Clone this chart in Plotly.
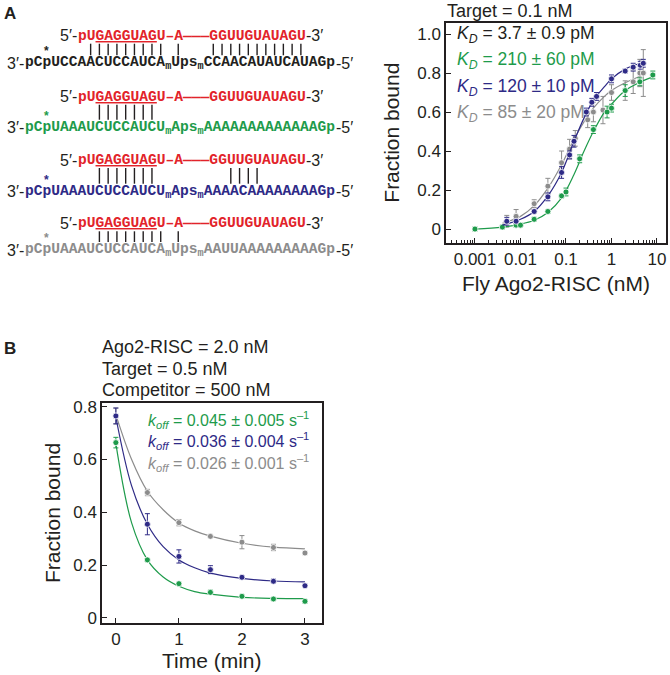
import plotly.graph_objects as go

W, H = 670, 675
INK = "#231f20"
RED = "#e2232a"
GREEN = "#1e9b4b"
BLUE = "#2e2a86"
GRAY = "#8c8c8c"
SANS = "Liberation Sans, Arial, sans-serif"
MONO = "Liberation Mono, Courier New, monospace"

# ---- panel A: binding curves, fraction bound vs Fly Ago2-RISC (nM)
green_conc = [0.001, 0.004, 0.008, 0.01, 0.02, 0.04, 0.08, 0.1, 0.2, 0.4, 0.8, 1.0, 2.0, 4.2, 8.1]
green_bound = [0.00, 0.01, 0.02, 0.02, 0.05, 0.09, 0.17, 0.19, 0.36, 0.51, 0.60, 0.62, 0.71, 0.755, 0.79]
green_err = [0.01, 0.01, 0.01, 0.01, 0.01, 0.01, 0.01, 0.02, 0.02, 0.02, 0.03, 0.02, 0.03, 0.02, 0.02]

blue_conc = [0.005, 0.008, 0.02, 0.04, 0.08, 0.12, 0.15, 0.28, 0.37, 0.47, 1.0, 2.0, 3.0, 4.3, 5.0]
blue_bound = [0.04, 0.04, 0.09, 0.165, 0.29, 0.38, 0.45, 0.60, 0.65, 0.68, 0.77, 0.81, 0.83, 0.84, 0.85]
blue_err = [0.02, 0.01, 0.01, 0.02, 0.03, 0.02, 0.03, 0.02, 0.02, 0.02, 0.02, 0.01, 0.02, 0.02, 0.02]

gray_conc = [0.005, 0.008, 0.02, 0.04, 0.08, 0.12, 0.16, 0.3, 0.4, 0.65, 1.0, 2.0, 3.0, 4.2, 5.0]
gray_bound = [0.04, 0.065, 0.13, 0.22, 0.34, 0.41, 0.465, 0.56, 0.60, 0.61, 0.70, 0.71, 0.755, 0.80, 0.80]
gray_err = [0.03, 0.035, 0.02, 0.04, 0.06, 0.05, 0.04, 0.04, 0.05, 0.07, 0.04, 0.05, 0.06, 0.07, 0.12]

# fitted curves
green_fit_x = [0.001, 0.004, 0.01, 0.02, 0.04, 0.08, 0.15, 0.25, 0.4, 0.7, 1.0, 2.0, 4.0, 8.0]
green_fit_y = [0.0, 0.01, 0.025, 0.045, 0.085, 0.16, 0.28, 0.40, 0.50, 0.60, 0.64, 0.71, 0.75, 0.78]
blue_fit_x = [0.004, 0.01, 0.02, 0.04, 0.08, 0.15, 0.25, 0.4, 0.7, 1.0, 2.0, 5.0]
blue_fit_y = [0.02, 0.05, 0.09, 0.17, 0.29, 0.45, 0.57, 0.66, 0.73, 0.77, 0.82, 0.855]
gray_fit_x = [0.004, 0.01, 0.02, 0.04, 0.08, 0.15, 0.25, 0.4, 0.7, 1.0, 2.0, 5.0]
gray_fit_y = [0.03, 0.065, 0.12, 0.21, 0.33, 0.46, 0.55, 0.62, 0.68, 0.71, 0.75, 0.79]

kd_labels = ["3.7 ± 0.9 pM", "210 ± 60 pM", "120 ± 10 pM", "85 ± 20 pM"]

# ---- panel B: dissociation, fraction bound vs time (min)
time_min = [0, 0.5, 1, 1.5, 2, 2.5, 3]
green_off = [0.664, 0.22, 0.13, 0.097, 0.082, 0.072, 0.063]
green_off_err = [0.02, 0.005, 0.005, 0.008, 0.005, 0.005, 0.007]
blue_off = [0.765, 0.355, 0.233, 0.183, 0.154, 0.139, 0.122]
blue_off_err = [0.03, 0.04, 0.025, 0.015, 0.006, 0.008, 0.004]
gray_off = [0.765, 0.475, 0.361, 0.309, 0.287, 0.267, 0.246]
gray_off_err = [0.03, 0.012, 0.012, 0.006, 0.025, 0.012, 0.006]

fit_t = [0, 0.25, 0.5, 0.75, 1, 1.25, 1.5, 2, 2.5, 3]
green_off_fit = [0.66, 0.36, 0.22, 0.155, 0.12, 0.10, 0.09, 0.078, 0.074, 0.073]
blue_off_fit = [0.76, 0.50, 0.355, 0.27, 0.22, 0.19, 0.17, 0.15, 0.14, 0.137]
gray_off_fit = [0.77, 0.60, 0.48, 0.41, 0.36, 0.33, 0.31, 0.283, 0.268, 0.262]

koff_labels = ["0.045 ± 0.005", "0.036 ± 0.004", "0.026 ± 0.001"]

# ---- sequences
guide_5p, guide_seed, guide_3p = "pU", "GAGGUAG", "U–A———GGUUGUAUAGU"
targets = [
    ("pCpUCCAACUCCAUCA", "Ups", "CCAACAUAUCAUAGp"),
    ("pCpUAAAUCUCCAUCU", "Aps", "AAAAAAAAAAAAAGp"),
    ("pCpUAAAUCUCCAUCU", "Aps", "AAAACAAAAAAAAGp"),
    ("pCpUAAAUCUCCAUCA", "Ups", "AAUUAAAAAAAAAGp"),
]
pairings = [
    " ||||||||| |   |||||||||||",
    "  |||||||",
    "  |||||||        ||||",
    "  |||||||| |",
]
row_colors = [INK, GREEN, BLUE, GRAY]

MONO_SIZE = 14.6
CELL = 0.6 * MONO_SIZE
TOP_X, BOT_X = 77.5, 25.0
TOP_Y = [35.7, 96.7, 160.0, 223.3]
BOT_Y = [63.3, 127.7, 191.7, 250.0]


def px(x):
    return x / W


def py(y):
    return 1 - y / H


def text(fig, x, y, s, size, color=INK, family=SANS, xanchor="left", angle=0, weight="normal"):
    fig.add_annotation(
        x=px(x), y=py(y), xref="paper", yref="paper", text=s, showarrow=False,
        xanchor=xanchor, yanchor="middle", textangle=angle, borderpad=0, borderwidth=0,
        font=dict(size=size, color=color, family=family, weight=weight)
    )


def series(fig, x, y, err, fx, fy, color, xa, ya):
    fig.add_trace(go.Scatter(
        x=fx, y=fy, mode="lines", line=dict(color=color, width=1.2, shape="spline"),
        xaxis=xa, yaxis=ya, hoverinfo="skip"
    ))
    fig.add_trace(go.Scatter(
        x=x, y=y, mode="markers",
        marker=dict(size=6, color=color, line=dict(width=0.8, color="white")),
        error_y=dict(type="data", array=err, color=color, thickness=1, width=2.5),
        xaxis=xa, yaxis=ya
    ))


fig = go.Figure()
series(fig, gray_conc, gray_bound, gray_err, gray_fit_x, gray_fit_y, GRAY, "x", "y")
series(fig, green_conc, green_bound, green_err, green_fit_x, green_fit_y, GREEN, "x", "y")
series(fig, blue_conc, blue_bound, blue_err, blue_fit_x, blue_fit_y, BLUE, "x", "y")
series(fig, time_min, gray_off, gray_off_err, fit_t, gray_off_fit, GRAY, "x2", "y2")
series(fig, time_min, blue_off, blue_off_err, fit_t, blue_off_fit, BLUE, "x2", "y2")
series(fig, time_min, green_off, green_off_err, fit_t, green_off_fit, GREEN, "x2", "y2")

axis_style = dict(
    showline=True, linecolor=INK, linewidth=1.5, mirror=True, showgrid=False, zeroline=False,
    ticks="inside", ticklen=5, tickwidth=1.3, tickcolor=INK, automargin=False,
    tickfont=dict(size=17, color=INK, family=SANS)
)
minor_log = [m * 10 ** e for e in range(-4, 2) for m in range(2, 10)]

fig.update_layout(
    width=W, height=H, margin=dict(l=0, r=0, t=0, b=0),
    paper_bgcolor="white", plot_bgcolor="white", showlegend=False,
    font=dict(family=SANS, color=INK),
    xaxis=dict(axis_style, domain=[px(446), px(666)], type="log", range=[-3.637, 1.198], anchor="y",
               tickmode="array", tickvals=[0.001, 0.01, 0.1, 1, 10],
               ticktext=["0.001", "0.01", "0.1", "1", "10"],
               minor=dict(tickmode="array", tickvals=minor_log, ticks="inside", ticklen=3,
                          tickwidth=1, tickcolor=INK, showgrid=False)),
    yaxis=dict(axis_style, domain=[py(242.7), py(22.7)], range=[-0.07, 1.058], anchor="x",
               tickvals=[0, 0.2, 0.4, 0.6, 0.8, 1.0], ticktext=["0", "0.2", "0.4", "0.6", "0.8", "1.0"]),
    xaxis2=dict(axis_style, domain=[px(102), px(322)], range=[-0.22, 3.27], anchor="y2",
                tickvals=[0, 1, 2, 3], ticktext=["0", "1", "2", "3"]),
    yaxis2=dict(axis_style, domain=[py(623), py(403)], range=[-0.019, 0.814], anchor="x2",
                tickvals=[0, 0.2, 0.4, 0.6, 0.8], ticktext=["0", "0.2", "0.4", "0.6", "0.8"]),
)

# panel letters
text(fig, 4, 14, "A", 17, weight="bold")
text(fig, 4, 348, "B", 17, weight="bold")

# duplex diagrams
for r in range(4):
    color = row_colors[r]
    ty, by = TOP_Y[r], BOT_Y[r]
    text(fig, TOP_X - 1, ty, "5′-", 16, xanchor="right")
    text(fig, TOP_X, ty, f"{guide_5p}<u>{guide_seed}</u>{guide_3p}", MONO_SIZE, RED, MONO, weight="bold")
    n_top = len(guide_5p) + len(guide_seed) + len(guide_3p)
    text(fig, TOP_X + n_top * CELL + 1, ty, "-3′", 16)
    for i, ch in enumerate(pairings[r]):
        if ch == "|":
            xb = px(TOP_X + (i + 0.5) * CELL)
            fig.add_shape(type="line", xref="paper", yref="paper", x0=xb, x1=xb,
                          y0=py(ty + 8), y1=py(by - 8), line=dict(color=INK, width=1.4))
    a, b, c = targets[r]
    text(fig, BOT_X - 1, by, "3′-", 16, xanchor="right")
    text(fig, BOT_X, by, f"{a}<sub>m</sub>{b}<sub>m</sub>{c}", MONO_SIZE, color, MONO, weight="bold")
    end_x = BOT_X + (len(a) + len(b) + len(c) + 1.4) * CELL
    text(fig, end_x + 1, by, "-5′", 16)
    text(fig, BOT_X + 2.5 * CELL, by - 12, "*", 12, color, SANS, xanchor="center", weight="bold")

# panel A labels
text(fig, 447, 11, "Target = 0.1 nM", 18)
for s, color, yy in zip(kd_labels, row_colors, [34, 61, 88, 114]):
    text(fig, 457, yy, f"<i>K</i><sub><i>D</i></sub> = {s}", 17.5, color)
text(fig, 392, 132.7, "Fraction bound", 21, angle=-90, xanchor="center")
text(fig, 556, 283, "Fly Ago2-RISC (nM)", 21, xanchor="center")

# panel B labels
for s, yy in zip(["Ago2-RISC = 2.0 nM", "Target = 0.5 nM", "Competitor = 500 nM"], [347, 368.5, 390]):
    text(fig, 102, yy, s, 18)
for s, color, yy in zip(koff_labels, [GREEN, BLUE, GRAY], [420, 441, 463]):
    text(fig, 148, yy, f"<i>k</i><sub><i>off</i></sub> = {s} s<sup>–1</sup>", 16, color)
text(fig, 52, 513, "Fraction bound", 21, angle=-90, xanchor="center")
text(fig, 212, 660, "Time (min)", 21, xanchor="center")

fig.write_html("out.html", config={"displayModeBar": False},
               post_script="document.body.style.margin = '0';")
